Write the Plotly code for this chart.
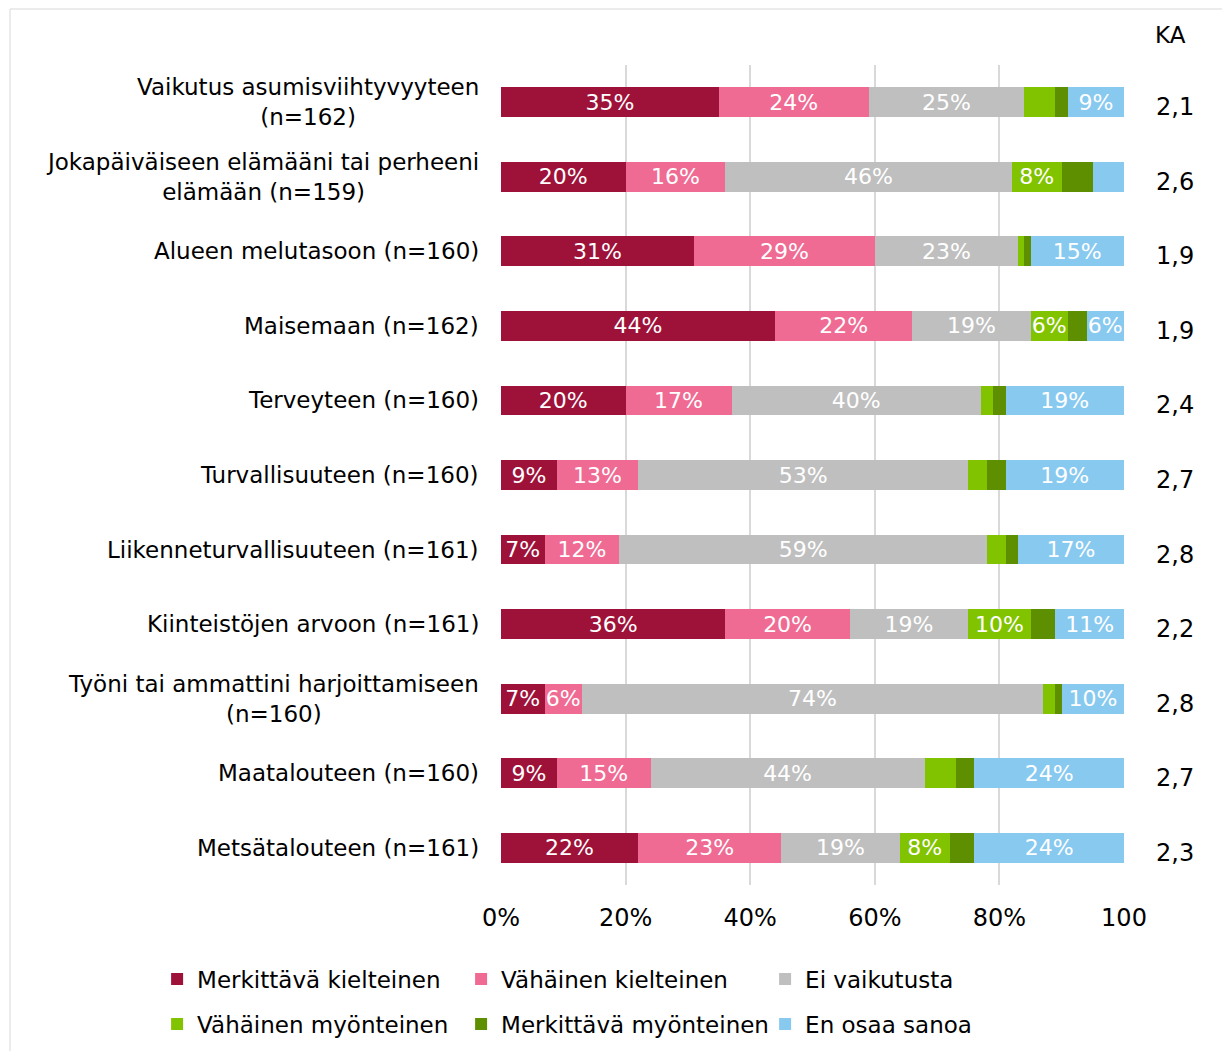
import plotly.graph_objects as go

categories = [
    "Vaikutus asumisviihtyvyyteen<br>(n=162)",
    "Jokapäiväiseen elämääni tai perheeni<br>elämään (n=159)",
    "Alueen melutasoon (n=160)",
    "Maisemaan (n=162)",
    "Terveyteen (n=160)",
    "Turvallisuuteen (n=160)",
    "Liikenneturvallisuuteen (n=161)",
    "Kiinteistöjen arvoon (n=161)",
    "Työni tai ammattini harjoittamiseen<br>(n=160)",
    "Maatalouteen (n=160)",
    "Metsätalouteen (n=161)",
]

series_names = [
    "Merkittävä kielteinen",
    "Vähäinen kielteinen",
    "Ei vaikutusta",
    "Vähäinen myönteinen",
    "Merkittävä myönteinen",
    "En osaa sanoa",
]

merkittava_kielteinen = [35, 20, 31, 44, 20, 9, 7, 36, 7, 9, 22]
vahainen_kielteinen = [24, 16, 29, 22, 17, 13, 12, 20, 6, 15, 23]
ei_vaikutusta = [25, 46, 23, 19, 40, 53, 59, 19, 74, 44, 19]
vahainen_myonteinen = [5, 8, 1, 6, 2, 3, 3, 10, 2, 5, 8]
merkittava_myonteinen = [2, 5, 1, 3, 2, 3, 2, 4, 1, 3, 4]
en_osaa_sanoa = [9, 5, 15, 6, 19, 19, 17, 11, 10, 24, 24]

ka_values = ["2,1", "2,6", "1,9", "1,9", "2,4", "2,7", "2,8", "2,2", "2,8", "2,7", "2,3"]

tick_vals = [0, 20, 40, 60, 80, 100]
tick_text = ["0%", "20%", "40%", "60%", "80%", "100"]

colors = ["#9E1239", "#EF6B93", "#BFBFBF", "#82C300", "#5E8F00", "#88C9F0"]

all_series = [merkittava_kielteinen, vahainen_kielteinen, ei_vaikutusta,
              vahainen_myonteinen, merkittava_myonteinen, en_osaa_sanoa]

FONT = "DejaVu Sans"

fig = go.Figure()
for i, (name, vals, col) in enumerate(zip(series_names, all_series, colors)):
    fig.add_trace(go.Bar(
        y=categories, x=vals, name=name, orientation="h",
        marker=dict(color=col, line=dict(width=0)),
        text=[f"{v}%" if v >= 6 else "" for v in vals],
        textposition="inside", insidetextanchor="middle",
        textfont=dict(color="white", size=22, family=FONT),
        constraintext="none", cliponaxis=False,
        hoverinfo="skip",
        legend="legend" if i < 3 else "legend2",
    ))

annotations = []
for cat in categories:
    annotations.append(dict(
        x=-0.032, xref="paper", y=cat, yref="y", text=cat, showarrow=False,
        xanchor="right", yanchor="middle", align="center",
        font=dict(size=23, family=FONT, color="#000000"),
    ))
for cat, ka in zip(categories, ka_values):
    annotations.append(dict(
        x=1.082, xref="paper", y=cat, yref="y", text=ka, showarrow=False,
        xanchor="center", yanchor="middle", yshift=-5,
        font=dict(size=24, family=FONT, color="#000000"),
    ))
annotations.append(dict(
    x=1.075, xref="paper", y=(885 - 35) / 820, yref="paper", text="KA",
    showarrow=False, xanchor="center", yanchor="middle",
    font=dict(size=23, family=FONT, color="#000000"),
))

fig.update_layout(
    width=1214, height=1060,
    margin=dict(l=493, r=98, t=57, b=183),
    barmode="stack", bargap=0.6,
    paper_bgcolor="white", plot_bgcolor="white",
    font=dict(family=FONT, size=23, color="#000000"),
    xaxis=dict(range=[0, 100], tickvals=tick_vals, ticktext=tick_text,
               showgrid=True, gridcolor="#D9D9D9", gridwidth=2,
               zeroline=False, showline=False, ticks="",
               ticklabelstandoff=16,
               tickfont=dict(size=24, family=FONT, color="#000000")),
    yaxis=dict(autorange="reversed", showticklabels=False, showgrid=False,
               zeroline=False, showline=False, ticks=""),
    legend=dict(orientation="h", x=-0.552, xanchor="left",
                y=(885 - 979) / 820, yanchor="middle",
                entrywidth=259, itemwidth=30, traceorder="normal",
                font=dict(size=23, family=FONT, color="#000000"),
                bgcolor="rgba(0,0,0,0)"),
    legend2=dict(orientation="h", x=-0.552, xanchor="left",
                 y=(885 - 1024) / 820, yanchor="middle",
                 entrywidth=259, itemwidth=30, traceorder="normal",
                 font=dict(size=23, family=FONT, color="#000000"),
                 bgcolor="rgba(0,0,0,0)"),
    annotations=annotations,
    shapes=[dict(type="rect", xref="paper", yref="paper",
                 x0=(10 - 501) / 623, x1=(1228 - 501) / 623,
                 y0=(885 - 1070) / 820, y1=(885 - 9) / 820,
                 line=dict(color="#D9D9D9", width=1), fillcolor="rgba(0,0,0,0)",
                 layer="below")],
    showlegend=True,
)

fig.write_html("out.html")
